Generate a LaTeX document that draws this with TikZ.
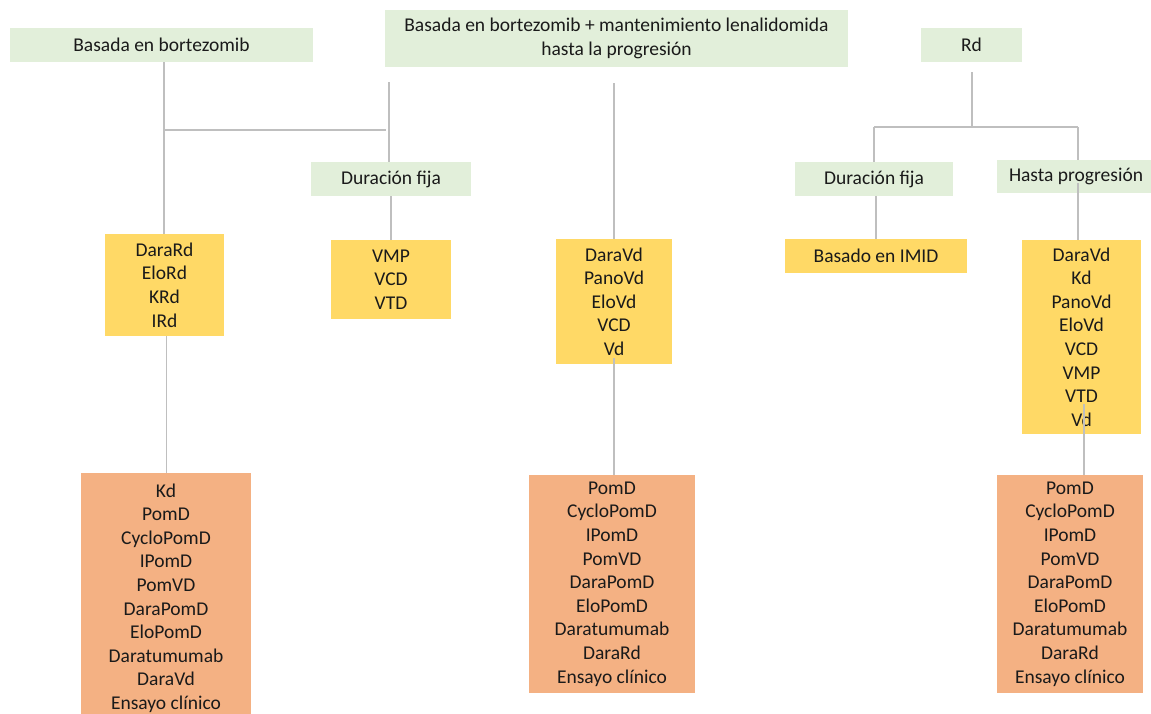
\documentclass[tikz,border=0pt]{standalone}
\usepackage{fontspec}
\setmainfont{Carlito}
\definecolor{boxgreen}{HTML}{E2EFDA}
\definecolor{boxyellow}{HTML}{FFD966}
\definecolor{boxorange}{HTML}{F4B183}
\definecolor{linegray}{HTML}{BFBFBF}
\definecolor{txt}{HTML}{1A1A1A}
\tikzset{
  base/.style={rectangle, inner sep=0pt, align=center, text=txt,
    font=\fontsize{19.5}{23.6}\selectfont},
  greenbox/.style={base, fill=boxgreen},
  yellowbox/.style={base, fill=boxyellow},
  orangebox/.style={base, fill=boxorange},
  conn/.style={draw=linegray, line width=1.1pt}
}
\begin{document}
\begin{tikzpicture}[x=1pt,y=-1pt]
\useasboundingbox[fill=white] (0,0) rectangle (1151,713);
% top level
\node[greenbox, minimum width=303pt, minimum height=34pt] (bort) at (161.5,45) {Basada en bortezomib};
\node[greenbox, minimum width=463pt, minimum height=57pt] (bortlen) at (616.5,38.5) {Basada en bortezomib + mantenimiento lenalidomida\\hasta la progresión};
\node[greenbox, minimum width=101pt, minimum height=34pt] (rd) at (971.5,45) {Rd};
% second level
\node[greenbox, minimum width=160pt, minimum height=34pt] (durL) at (391,179) {Duración fija};
\node[greenbox, minimum width=158pt, minimum height=34pt] (durR) at (874,179) {Duración fija};
\node[greenbox, minimum width=158pt, minimum height=33pt] (hasta) at (1076,176.5) {Hasta progresión};
% yellow
\node[yellowbox, minimum width=119pt, minimum height=102pt] (y1) at (164.5,285) {DaraRd\\EloRd\\KRd\\IRd};
\node[yellowbox, minimum width=120pt, minimum height=79pt] (y2) at (391,279.5) {VMP\\VCD\\VTD};
\node[yellowbox, minimum width=116pt, minimum height=125pt] (y3) at (614,301.5) {DaraVd\\PanoVd\\EloVd\\VCD\\Vd};
\node[yellowbox, minimum width=182pt, minimum height=34pt] (y4) at (876,256) {Basado en IMID};
\node[yellowbox, minimum width=119pt, minimum height=194pt] (y5) at (1081.5,337) {DaraVd\\Kd\\PanoVd\\EloVd\\VCD\\VMP\\VTD\\Vd};
% orange
\node[orangebox, minimum width=170pt, minimum height=250pt] (o1) at (166,598) {Kd\\PomD\\CycloPomD\\IPomD\\PomVD\\DaraPomD\\EloPomD\\Daratumumab\\DaraVd\\Ensayo clínico};
\node[orangebox, minimum width=166pt, minimum height=218pt] (o2) at (612,584) {PomD\\CycloPomD\\IPomD\\PomVD\\DaraPomD\\EloPomD\\Daratumumab\\DaraRd\\Ensayo clínico};
\node[orangebox, minimum width=146pt, minimum height=218pt] (o3) at (1070,584) {PomD\\CycloPomD\\IPomD\\PomVD\\DaraPomD\\EloPomD\\Daratumumab\\DaraRd\\Ensayo clínico};
% free-end coordinates
\coordinate (j1) at (164,130);
\coordinate (j2) at (386,130);
\coordinate (m1) at (389,82);
\coordinate (c1) at (614,83);
\coordinate (r1) at (972,72);
\coordinate (r2) at (972,127);
\coordinate (rl) at (874,127);
\coordinate (rr) at (1078,127);
\coordinate (hin) at (1078,183);
\coordinate (y3in) at (614,358);
\coordinate (y5in) at (1084,404);
% connectors
\draw[conn] (bort.south -| j1) -- (y1.north -| j1);
\draw[conn] (j1) -- (j2);
\draw[conn] (m1) -- (durL.north -| m1);
\draw[conn] (durL.south) -- (y2.north);
\draw[conn] (y1.south -| 166.5,0) -- (o1.north -| 166.5,0);
\draw[conn] (c1) -- (y3.north -| c1);
\draw[conn] (y3in) -- (o2.north -| y3in);
\draw[conn] (r1) -- (r2);
\draw[conn] (rl) -- (rr);
\draw[conn] (rl) -- (durR.north -| rl);
\draw[conn] (rr) -- (hasta.north -| rr);
\draw[conn] (hin) -- (y5.north -| hin);
\draw[conn] (durR.south -| 876,0) -- (y4.north);
\draw[conn] (y5in) -- (o3.north -| y5in);
\end{tikzpicture}
\end{document}
